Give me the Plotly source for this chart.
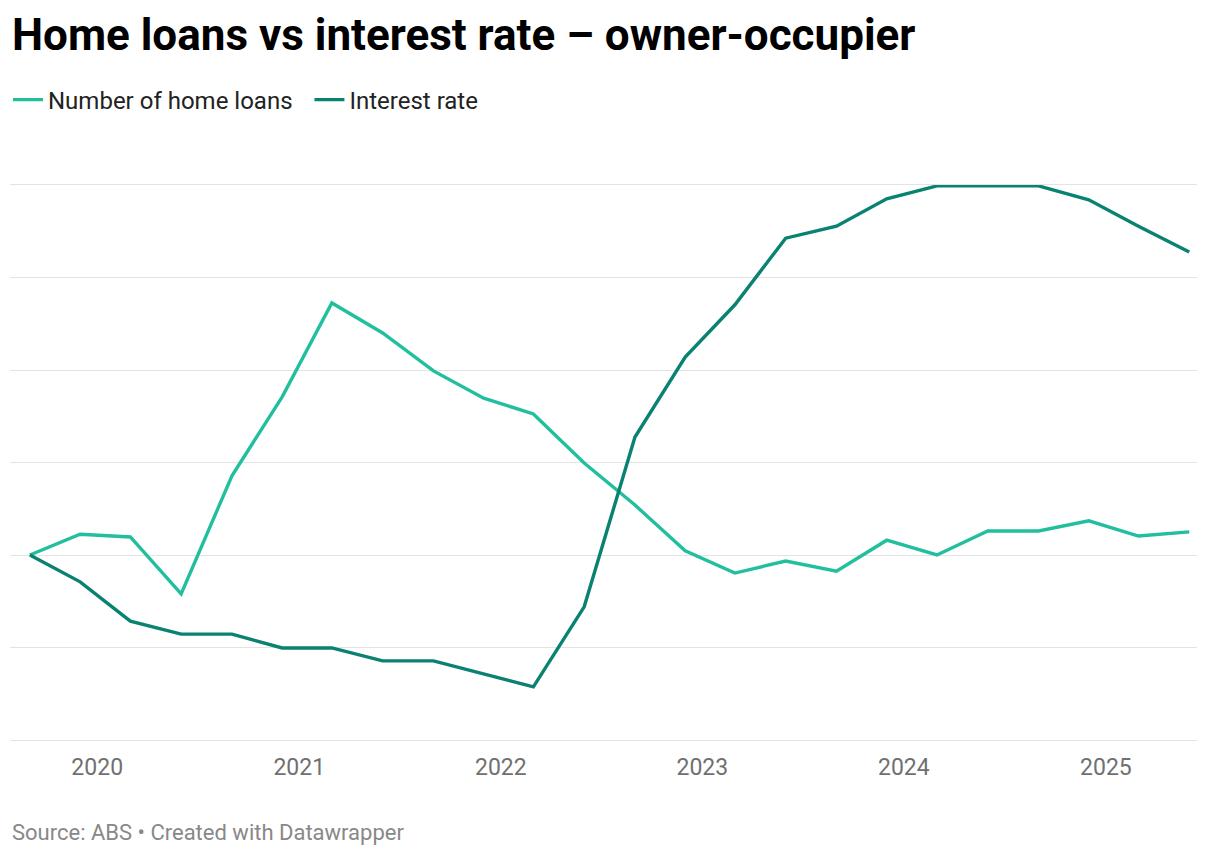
import plotly.graph_objects as go

dates = ["2019-09-01", "2019-12-01", "2020-03-01", "2020-06-01", "2020-09-01", "2020-12-01",
         "2021-03-01", "2021-06-01", "2021-09-01", "2021-12-01", "2022-03-01", "2022-06-01",
         "2022-09-01", "2022-12-01", "2023-03-01", "2023-06-01", "2023-09-01", "2023-12-01",
         "2024-03-01", "2024-06-01", "2024-09-01", "2024-12-01", "2025-03-01", "2025-06-01"]

home_loans = [100, 104.5, 103.9, 91.6, 117.1, 134.2, 154.5, 148.0, 139.8, 133.9, 130.5, 119.9,
              110.8, 100.9, 96.1, 98.7, 96.5, 103.2, 100.0, 105.2, 105.2, 107.4, 104.1, 105.0]

interest_rate = [100, 94.2, 85.7, 82.9, 82.9, 79.9, 79.9, 77.1, 77.1, 74.3, 71.5, 88.8,
                 125.5, 142.8, 154.1, 168.5, 171.1, 177.0, 179.8, 179.8, 179.8, 176.8, 171.1, 165.5]

tick_vals = ["2020-01-01", "2021-01-01", "2022-01-01", "2023-01-01", "2024-01-01", "2025-01-01"]
tick_text = ["2020", "2021", "2022", "2023", "2024", "2025"]
grid_vals = [60, 80, 100, 120, 140, 160, 180]

W, H = 1212, 848  # page body adds an 8px offset
ML, MR, MT, MB = 2, 23, 177, 116
PH = H - MT - MB
GRID = "#e3e3e3"

fig = go.Figure()
fig.add_trace(go.Scatter(x=dates, y=home_loans, mode="lines", name="Number of home loans\u00a0\u00a0",
                         line=dict(color="#22bf9f", width=3.4), cliponaxis=False))
fig.add_trace(go.Scatter(x=dates, y=interest_rate, mode="lines", name="Interest rate",
                         line=dict(color="#0a8272", width=3.4), cliponaxis=False))

fig.update_layout(
    width=W, height=H,
    margin=dict(l=ML, r=MR, t=MT, b=MB),
    paper_bgcolor="white", plot_bgcolor="white",
    font=dict(family="Roboto", color="#333333"),
    showlegend=True,
    legend=dict(orientation="h", x=0, y=1 - 92 / H, xref="container", yref="container",
                xanchor="left", yanchor="middle",
                font=dict(size=24, color="#222222"), itemwidth=30,
                traceorder="normal"),
    xaxis=dict(range=["2019-07-27", "2025-06-15"], tickvals=tick_vals, ticktext=tick_text,
               showgrid=False, zeroline=False, showline=True, mirror=True,
               linecolor=GRID, linewidth=1.4, ticks="",
               tickfont=dict(size=23, color="#707070"), ticklabelstandoff=6),
    yaxis=dict(range=[60, 180], tickvals=grid_vals, showticklabels=False,
               showgrid=True, gridcolor=GRID, gridwidth=1.4, zeroline=False,
               showline=False, ticks=""),
    annotations=[
        dict(text="<b>Home loans vs interest rate – owner-occupier</b>", xref="paper", yref="paper",
             x=0, y=1 + (MT - 27) / PH, xanchor="left", yanchor="middle", showarrow=False,
             font=dict(size=44, color="#000000", family="Roboto")),
        dict(text="Source: ABS • Created with Datawrapper", xref="paper", yref="paper",
             x=0, y=-(824 - (H - MB)) / PH, xanchor="left", yanchor="middle", showarrow=False,
             font=dict(size=22, color="#888888", family="Roboto")),
    ],
)

fig.write_html("out.html")
